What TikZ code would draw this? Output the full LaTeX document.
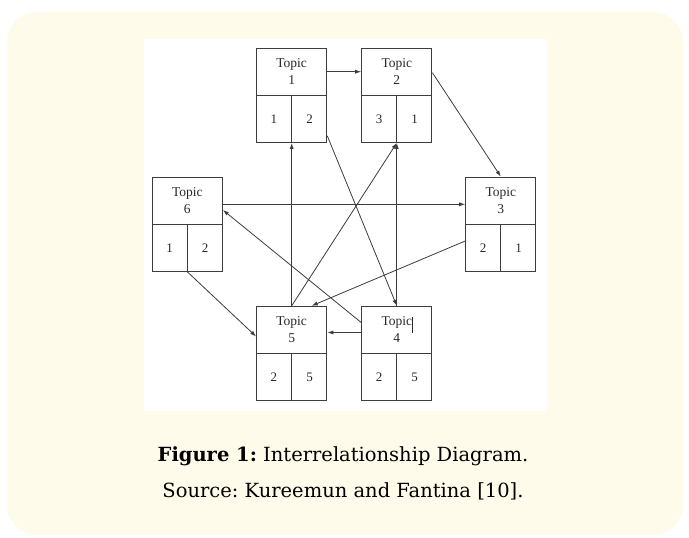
\documentclass[tikz,border=0pt]{standalone}
\usepackage{fontspec}
\setmainfont{Liberation Serif}
\newfontfamily\capfont{DejaVu Serif}
\usetikzlibrary{calc,arrows.meta}
\frenchspacing
\definecolor{panel}{RGB}{255,251,234}
\definecolor{ink}{RGB}{60,60,60}
\definecolor{txt}{RGB}{40,40,50}
\tikzset{
  topic/.style={draw=ink, line width=1.2pt, minimum width=70pt, minimum height=94pt, inner sep=0pt},
  cellline/.style={draw=ink, line width=1.2pt},
  link/.style={draw=ink, line width=0.8pt, -{Latex[length=6pt,width=4pt]}},
  lbl/.style={font=\fontsize{13.5}{16.5}\selectfont, text=txt, align=center},
  num/.style={font=\fontsize{13}{15}\selectfont, text=txt},
  captext/.style={font=\capfont\fontsize{19.5}{23}\selectfont, text=black, anchor=base}
}
\newcommand{\topicbox}[5]{%
  \node[topic] (#1) at (#2) {};
  \draw[cellline] (#1.west) -- (#1.east);
  \draw[cellline] (#1.center) -- (#1.south);
  \node[lbl] (#1h) at ($(#1.north)!0.5!(#1.center)$) {Topic\\#3};
  \node[num] (#1a) at ($(#1.south west)!0.5!(#1.center)$) {#4};
  \node[num] (#1b) at ($(#1.south east)!0.5!(#1.center)$) {#5};
}
\begin{document}
\begin{tikzpicture}[x=1pt,y=-1pt]
\useasboundingbox (0,0) rectangle (689,538);
\fill[panel, rounded corners=30pt] (7,12) rectangle (683,535);
\fill[white] (144,39) rectangle (547,411);
\topicbox{t1}{291.7,95.3}{1}{1}{2}
\topicbox{t2}{396.8,95.3}{2}{3}{1}
\topicbox{t3}{500.8,224.2}{3}{2}{1}
\topicbox{t6}{187.3,224.2}{6}{1}{2}
\topicbox{t5}{291.7,353.4}{5}{2}{5}
\topicbox{t4}{396.8,353.4}{4}{2}{5}
% cursor mark in Topic 4
\coordinate (cur1) at (412.7,317);
\coordinate (cur2) at (412.7,333);
\draw[txt, line width=0.8pt] (cur1) -- (cur2);
% connectors
\draw[link] ($(t1.north east)+(0,24)$) -- ($(t2.north west)+(0,24)$);
\draw[link] ($(t2.north east)+(0,25)$) -- (t3.north);
\draw[link] ($(t6.north east)+(0,27.7)$) -- ($(t3.north west)+(0,27.7)$);
\draw[link] (t5.north) -- (t1.south);
\draw[link] (t5.north) -- (t2.south);
\draw[link] ($(t1.south east)+(0,-7)$) -- (t4.north);
\draw[link] (t4.north) -- (t2.south);
\draw[link] ($(t3.north west)+(0,64.4)$) -- ($(t5.north)+(20,0)$);
\draw[link] ($(t4.north west)+(0,16.7)$) -- ($(t6.north east)+(0,33.4)$);
\draw[link] ($(t4.north west)+(0,26.7)$) -- ($(t5.north east)+(0,26.7)$);
\draw[link] (t6.south) -- ($(t5.north west)+(0,30.7)$);
% caption
\node[captext] (cap1) at (343,461) {\textbf{Figure 1:} Interrelationship Diagram.};
\node[captext] (cap2) at (343,497) {Source: Kureemun and Fantina [10].};
\end{tikzpicture}
\end{document}
